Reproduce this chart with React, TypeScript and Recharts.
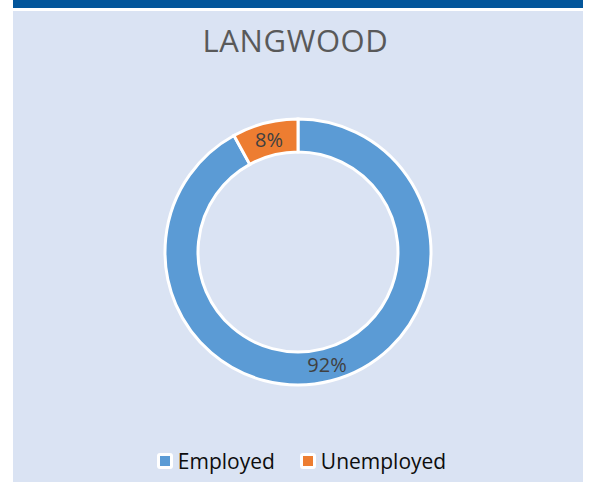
import React from 'react';
import { PieChart, Pie, Cell, Legend } from 'recharts';

const title = 'LANGWOOD';
const categories = ['Employed', 'Unemployed'];
const values = [92, 8];
const colors = ['#5B9BD5', '#ED7D31'];

const data = categories.map((name, i) => ({ name, value: values[i] }));

const RAD = Math.PI / 180;
const FONT = '"Open Sans", sans-serif';

const renderLabel = (props: any) => {
  const { cx, cy, midAngle, innerRadius, outerRadius, percent } = props;
  const r = (innerRadius + outerRadius) / 2;
  const x = cx + r * Math.cos(-midAngle * RAD);
  const y = cy + r * Math.sin(-midAngle * RAD);
  return (
    <text
      x={x}
      y={y}
      textAnchor="middle"
      dominantBaseline="central"
      fill="#404040"
      fontSize={20}
      fontFamily={FONT}
    >
      {`${Math.round(percent * 100)}%`}
    </text>
  );
};

const renderLegend = (props: any) => {
  const { payload } = props;
  return (
    <div
      style={{
        display: 'flex',
        justifyContent: 'center',
        alignItems: 'center',
        fontFamily: FONT,
        fontSize: 21,
        color: '#0d0d0d',
        paddingLeft: 13,
      }}
    >
      {(payload || []).map((entry: any, i: number) => (
        <div
          key={i}
          style={{ display: 'flex', alignItems: 'center', marginLeft: i === 0 ? 0 : 25 }}
        >
          <div
            style={{
              width: 16,
              height: 16,
              background: '#ffffff',
              borderRadius: 3,
              display: 'flex',
              alignItems: 'center',
              justifyContent: 'center',
              marginRight: 5,
            }}
          >
            <div style={{ width: 10, height: 10, background: entry.color }} />
          </div>
          <span style={{ lineHeight: '20px' }}>{entry.value}</span>
        </div>
      ))}
    </div>
  );
};

export default function App() {
  return (
    <div
      style={{
        position: 'absolute',
        left: 0,
        top: 0,
        width: 590,
        height: 482,
        background: '#ffffff',
        overflow: 'hidden',
      }}
    >
      <div style={{ position: 'absolute', left: 13, top: 0, width: 570, height: 8, background: '#03569B' }} />
      <div style={{ position: 'absolute', left: 13, top: 11, width: 570, height: 471, background: '#DAE3F3' }} />
      <div
        style={{
          position: 'absolute',
          left: 0,
          width: 591,
          top: 19,
          textAlign: 'center',
          fontFamily: FONT,
          fontSize: 31,
          letterSpacing: 0.6,
          color: '#595959',
          lineHeight: 'normal',
        }}
      >
        {title}
      </div>
      <div style={{ position: 'absolute', left: 0, top: 0 }}>
        <PieChart width={590} height={482} margin={{ top: 0, right: 0, bottom: 0, left: 0 }}>
          <Pie
            data={data}
            dataKey="value"
            nameKey="name"
            cx={298}
            cy={252}
            innerRadius={100}
            outerRadius={133}
            startAngle={90}
            endAngle={-270}
            stroke="#ffffff"
            strokeWidth={3}
            label={renderLabel}
            labelLine={false}
            isAnimationActive={false}
          >
            {data.map((d, i) => (
              <Cell key={d.name} fill={colors[i]} />
            ))}
          </Pie>
          <Legend
            content={renderLegend}
            wrapperStyle={{ position: 'absolute', top: 451, left: 0, width: 590, bottom: 'auto' }}
          />
        </PieChart>
      </div>
    </div>
  );
}
